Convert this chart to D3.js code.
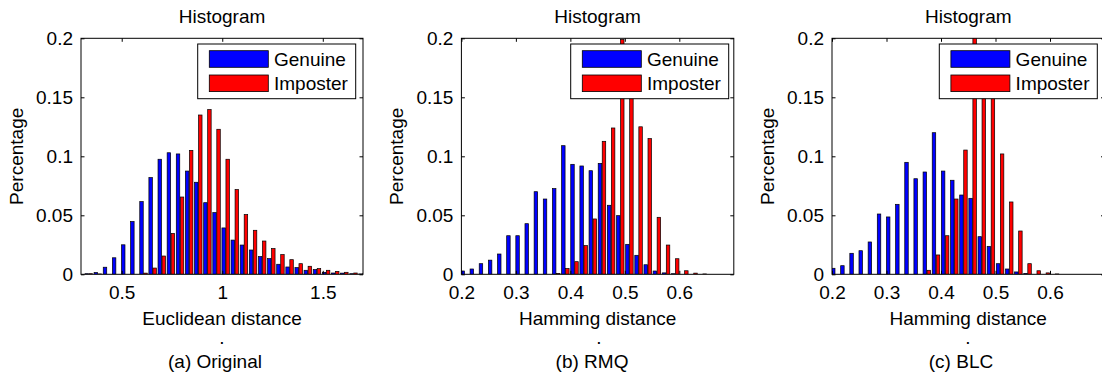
<!DOCTYPE html>
<html>
<head>
<meta charset="utf-8">
<script src="https://cdn.jsdelivr.net/npm/d3@7/dist/d3.min.js"></script>
<style>
  body { margin: 0; background: #fff; }
  text { font-family: "Liberation Sans", Arial, sans-serif; font-size: 19px; fill: #000; }
</style>
</head>
<body>
<svg id="canvas" width="1102" height="376"></svg>
<script>
// bin centres
const euclideanBins = [0.336, 0.3814, 0.4268, 0.4722, 0.5176, 0.563, 0.6084, 0.6538, 0.6992, 0.7446,
  0.79, 0.8354, 0.8808, 0.9262, 0.9716, 1.017, 1.0624, 1.1078, 1.1532, 1.1986,
  1.244, 1.2894, 1.3348, 1.3802, 1.4256, 1.471, 1.5164, 1.5618, 1.6072, 1.6526, 1.698];
const hammingBins = [0.206, 0.2228, 0.2396, 0.2564, 0.2732, 0.29, 0.3068, 0.3236, 0.3404, 0.3572,
  0.374, 0.3908, 0.4076, 0.4244, 0.4412, 0.458, 0.4748, 0.4916, 0.5084, 0.5252,
  0.542, 0.5588, 0.5756, 0.5924, 0.6092, 0.626, 0.6428, 0.6596, 0.6764, 0.6932, 0.71];

// (a) Original
const originalGenuine = [0.0005, 0.0015, 0.006, 0.014, 0.025, 0.0447, 0.0616, 0.082, 0.0975, 0.103,
  0.102, 0.0875, 0.078, 0.0607, 0.0523, 0.0393, 0.029, 0.0248, 0.0206, 0.015,
  0.0133, 0.0085, 0.0062, 0.0057, 0.0034, 0.004, 0.0017, 0.0011, 0.001, 0.0005, 0.0003];
const originalImposter = [0.0005, 0.0003, 0, 0, 0, 0, 0.001, 0.0053, 0.0155, 0.0347,
  0.0655, 0.105, 0.135, 0.1396, 0.1229, 0.0975, 0.0718, 0.0506, 0.0373, 0.0282,
  0.0218, 0.0167, 0.0124, 0.009, 0.0068, 0.0048, 0.0034, 0.0025, 0.0017, 0.0011, 0.0008];

// (b) RMQ
const rmqGenuine = [0.0028, 0.0045, 0.009, 0.012, 0.0172, 0.0327, 0.0327, 0.0429, 0.07, 0.0638,
  0.0726, 0.109, 0.0932, 0.0918, 0.0878, 0.094, 0.0585, 0.0497, 0.0254, 0.0161,
  0.0081, 0.0028, 0.0012, 0.0005, 0, 0, 0, 0, 0, 0, 0];
const rmqImposter = [0, 0, 0, 0, 0, 0, 0, 0, 0, 0,
  0.0008, 0.005, 0.0107, 0.0243, 0.0469, 0.1127, 0.124, 0.199, 0.175, 0.125,
  0.115, 0.0483, 0.0248, 0.0132, 0.003, 0.001, 0.0003, 0, 0, 0, 0];

// (c) BLC
const blcGenuine = [0.0051, 0.0073, 0.0178, 0.02, 0.0274, 0.0511, 0.0486, 0.0593, 0.0949, 0.081,
  0.0867, 0.12, 0.0875, 0.0797, 0.0672, 0.0644, 0.0319, 0.0237, 0.009, 0.0045,
  0.002, 0.0008, 0, 0, 0, 0, 0, 0, 0, 0, 0];
const blcImposter = [0, 0, 0, 0, 0, 0, 0, 0, 0, 0,
  0.0034, 0.0164, 0.0327, 0.0638, 0.1053, 0.21, 0.17, 0.165, 0.102, 0.0613,
  0.0367, 0.009, 0.003, 0.0012, 0.0003, 0, 0, 0, 0, 0, 0];

const yTicks = [0, 0.05, 0.1, 0.15, 0.2];
const yTickLabels = ["0", "0.05", "0.1", "0.15", "0.2"];
const euclideanTicks = [0.5, 1, 1.5];
const euclideanTickLabels = ["0.5", "1", "1.5"];
const hammingTicks = [0.2, 0.3, 0.4, 0.5, 0.6];
const hammingTickLabels = ["0.2", "0.3", "0.4", "0.5", "0.6"];
const seriesNames = ["Genuine", "Imposter"];

const svg = d3.select("#canvas");
const plotTop = 38.3;
const plotBottom = 274.3;

const panels = [
  { id: "a", left: 81, right: 363, xDomain: [0.2975, 1.7], bins: euclideanBins,
    genuine: originalGenuine, imposter: originalImposter,
    xTicks: euclideanTicks, xTickLabels: euclideanTickLabels,
    xLabel: "Euclidean distance", caption: "(a) Original", captionX: 215, legendLeft: 197.7 },
  { id: "b", left: 461.4, right: 733.8, xDomain: [0.2, 0.7], bins: hammingBins,
    genuine: rmqGenuine, imposter: rmqImposter,
    xTicks: hammingTicks, xTickLabels: hammingTickLabels,
    xLabel: "Hamming distance", caption: "(b) RMQ", captionX: 592, legendLeft: 570.7 },
  { id: "c", left: 832, right: 1104.5, xDomain: [0.2, 0.7], bins: hammingBins,
    genuine: blcGenuine, imposter: blcImposter,
    xTicks: hammingTicks, xTickLabels: hammingTickLabels,
    xLabel: "Hamming distance", caption: "(c) BLC", captionX: 961, legendLeft: 939.3 },
];

const colors = ["#0000ff", "#ff0000"];

const drawPanel = (p) => {
  const x = d3.scaleLinear().domain(p.xDomain).range([p.left, p.right]);
  const y = d3.scaleLinear().domain([0, 0.2]).range([plotBottom, plotTop]);
  const g = svg.append("g");

  svg.append("clipPath").attr("id", "clip-" + p.id)
    .append("rect")
    .attr("x", p.left).attr("y", plotTop)
    .attr("width", p.right - p.left).attr("height", plotBottom - plotTop);

  // grouped bars, blue left of the bin centre, red right of it
  const step = x(p.bins[1]) - x(p.bins[0]);
  const barW = step * 0.38;
  const bars = g.append("g").attr("clip-path", `url(#clip-${p.id})`);
  [p.genuine, p.imposter].forEach((values, k) => {
    const shift = (k == 0 ? -0.22 : 0.22) * step;
    bars.selectAll(null)
      .data(values)
      .enter()
      .append("rect")
      .attr("x", (d, i) => x(p.bins[i]) + shift - barW / 2)
      .attr("y", (d) => y(d))
      .attr("width", barW)
      .attr("height", (d) => plotBottom - y(d))
      .attr("fill", colors[k])
      .attr("stroke", "#000")
      .attr("stroke-width", 0.7);
  });

  // axes, ticks point inward like matlab
  const fmtX = (d, i) => p.xTickLabels[i];
  const fmtY = (d, i) => yTickLabels[i];
  g.append("g").attr("transform", `translate(0,${plotBottom})`)
    .call(d3.axisBottom(x).tickValues(p.xTicks).tickFormat(fmtX).tickSize(-3.5).tickPadding(11.5));
  g.append("g").attr("transform", `translate(0,${plotTop})`)
    .call(d3.axisTop(x).tickValues(p.xTicks).tickFormat("").tickSize(-3.5));
  g.append("g").attr("transform", `translate(${p.left},0)`)
    .call(d3.axisLeft(y).tickValues(yTicks).tickFormat(fmtY).tickSize(-3.5).tickPadding(8));
  g.append("g").attr("transform", `translate(${p.right},0)`)
    .call(d3.axisRight(y).tickValues(yTicks).tickFormat("").tickSize(-3.5));
  g.selectAll(".domain").remove();
  g.selectAll(".tick line").attr("stroke", "#000");

  g.append("rect")
    .attr("x", p.left).attr("y", plotTop)
    .attr("width", p.right - p.left).attr("height", plotBottom - plotTop)
    .attr("fill", "none").attr("stroke", "#000").attr("stroke-width", 1);

  const mid = (p.left + p.right) / 2;
  g.append("text").attr("x", mid).attr("y", 23).attr("text-anchor", "middle").text("Histogram");
  g.append("text")
    .attr("transform", `translate(${p.left - 58},${(plotTop + plotBottom) / 2}) rotate(-90)`)
    .attr("text-anchor", "middle").text("Percentage");
  g.append("text").attr("x", mid).attr("y", 325).attr("text-anchor", "middle").text(p.xLabel);
  g.append("text").attr("x", p.captionX + 7).attr("y", 344).attr("text-anchor", "middle").text(".");
  g.append("text").attr("x", p.captionX).attr("y", 368).attr("text-anchor", "middle").text(p.caption);

  // legend
  const lg = g.append("g").attr("transform", `translate(${p.legendLeft},44)`);
  lg.append("rect").attr("width", 158).attr("height", 54.7)
    .attr("fill", "#fff").attr("stroke", "#000").attr("stroke-width", 1);
  seriesNames.forEach((name, k) => {
    lg.append("rect")
      .attr("x", 11.6).attr("y", 6.7 + k * 24.3)
      .attr("width", 59).attr("height", 16.6)
      .attr("fill", colors[k]).attr("stroke", "#000").attr("stroke-width", 0.8);
    lg.append("text").attr("x", 76.3).attr("y", 21.7 + k * 24.3).text(name);
  });
};

panels.forEach(drawPanel);
</script>
</body>
</html>
